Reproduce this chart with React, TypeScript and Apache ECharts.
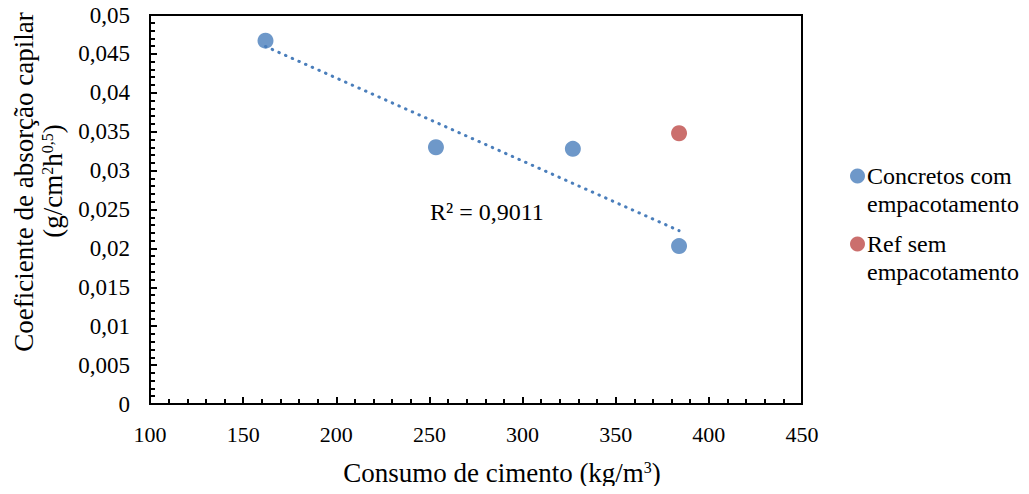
import React, { useEffect, useRef } from "react";
import * as echarts from "echarts";

const xTicks = [100, 150, 200, 250, 300, 350, 400, 450];
const yMin = 0;
const yMax = 0.05;
const yStep = 0.005;

const packedCement = [162, 253.5, 327, 384];
const packedAbsorption = [0.0467, 0.033, 0.0328, 0.0203];

const refCement = [384];
const refAbsorption = [0.0348];

const seriesNames = ["Concretos com\nempacotamento", "Ref sem\nempacotamento"];
const r2Label = "R² = 0,9011";
const xTitle = "Consumo de cimento (kg/m{sup|3})";
const yTitleLine1 = "Coeficiente de absorção capilar";
const yTitleLine2 = "(g/cm{sup|2}h{sup|0,5})";

const FONT = "Liberation Serif";

function linearFit(xs: number[], ys: number[]) {
  const n = xs.length;
  const mx = xs.reduce((a, b) => a + b, 0) / n;
  const my = ys.reduce((a, b) => a + b, 0) / n;
  let sxy = 0;
  let sxx = 0;
  for (let i = 0; i < n; i++) {
    sxy += (xs[i] - mx) * (ys[i] - my);
    sxx += (xs[i] - mx) * (xs[i] - mx);
  }
  const slope = sxy / sxx;
  const intercept = my - slope * mx;
  return { slope, intercept };
}

export default function App() {
  const ref = useRef<HTMLDivElement>(null);

  useEffect(() => {
    if (!ref.current) return;
    const chart = echarts.init(ref.current, undefined, { renderer: "svg" });
    const fit = linearFit(packedCement, packedAbsorption);
    const xLo = Math.min(...packedCement);
    const xHi = Math.max(...packedCement);
    const trend = [
      [xLo, fit.intercept + fit.slope * xLo],
      [xHi, fit.intercept + fit.slope * xHi],
    ];
    const sup = { fontSize: 16, fontFamily: FONT, fill: "#000", verticalAlign: "top" };

    chart.setOption({
      animation: false,
      backgroundColor: "#ffffff",
      textStyle: { fontFamily: FONT },
      grid: {
        left: 150,
        top: 15,
        right: 227,
        bottom: 90,
        show: true,
        borderColor: "#000",
        borderWidth: 2,
        containLabel: false,
      },
      xAxis: {
        type: "value",
        min: xTicks[0],
        max: xTicks[xTicks.length - 1],
        interval: 50,
        axisLine: { show: true, lineStyle: { color: "#000", width: 2 } },
        axisTick: { show: true, inside: true, length: 7, lineStyle: { color: "#000", width: 2 } },
        minorTick: { show: true, splitNumber: 5, length: 5, lineStyle: { color: "#000", width: 2 } },
        splitLine: { show: false },
        axisLabel: {
          color: "#000",
          fontSize: 22,
          fontFamily: FONT,
          margin: 19,
          formatter: (v: number) => `{t|${v}}`,
          rich: { t: { fontSize: 22, fontFamily: FONT, color: "#000" } },
        },
      },
      yAxis: {
        type: "value",
        min: yMin,
        max: yMax,
        interval: yStep,
        axisLine: { show: true, lineStyle: { color: "#000", width: 2 } },
        axisTick: { show: true, inside: true, length: 7, lineStyle: { color: "#000", width: 2 } },
        minorTick: { show: true, splitNumber: 5, length: 5, lineStyle: { color: "#000", width: 2 } },
        splitLine: { show: false },
        axisLabel: {
          color: "#000",
          fontSize: 23,
          fontFamily: FONT,
          margin: 20,
          formatter: (v: number) =>
            `{t|${v === 0 ? "0" : String(+v.toFixed(3)).replace(".", ",")}}`,
          rich: { t: { fontSize: 23, fontFamily: FONT, color: "#000" } },
        },
      },
      legend: {
        data: seriesNames,
        orient: "vertical",
        left: 845,
        top: 129,
        itemWidth: 15,
        itemHeight: 15,
        itemGap: -16,
        icon: "circle",
        formatter: (name: string) =>
          "\n" + name.split("\n").map((l) => `{t|${l}}`).join("\n"),
        textStyle: {
          color: "#000",
          fontSize: 24,
          fontFamily: FONT,
          lineHeight: 28,
          padding: [0, 0, 0, -3],
          rich: { t: { fontSize: 24, fontFamily: FONT, color: "#000", lineHeight: 28 } },
        },
      },
      series: [
        {
          name: "trend",
          type: "line",
          data: trend,
          symbol: "none",
          silent: true,
          lineStyle: { color: "#4A7EBB", width: 3, type: [0.5, 6.8], cap: "round" },
          z: 1,
        },
        {
          name: seriesNames[0],
          type: "scatter",
          data: packedCement.map((x, i) => [x, packedAbsorption[i]]),
          symbolSize: 16,
          itemStyle: { color: "#4A7EBB" },
          z: 3,
        },
        {
          name: seriesNames[1],
          type: "scatter",
          data: refCement.map((x, i) => [x, refAbsorption[i]]),
          symbolSize: 16,
          itemStyle: { color: "#BE4B48" },
          z: 3,
        },
      ],
      graphic: [
        {
          type: "text",
          x: 430,
          y: 212,
          style: { text: r2Label, fontSize: 24, fontFamily: FONT, fill: "#000", align: "left", verticalAlign: "middle" },
        },
        {
          type: "text",
          x: 502,
          y: 473,
          style: {
            text: xTitle,
            fontSize: 27,
            fontFamily: FONT,
            fill: "#000",
            align: "center",
            verticalAlign: "middle",
            rich: { sup },
          },
        },
        {
          type: "text",
          x: 24,
          y: 182,
          rotation: Math.PI / 2,
          style: {
            text: yTitleLine1,
            fontSize: 27,
            fontFamily: FONT,
            fill: "#000",
            align: "center",
            verticalAlign: "middle",
          },
        },
        {
          type: "text",
          x: 53,
          y: 181,
          rotation: Math.PI / 2,
          style: {
            text: yTitleLine2,
            fontSize: 27,
            fontFamily: FONT,
            fill: "#000",
            align: "center",
            verticalAlign: "middle",
            rich: { sup },
          },
        },
      ],
    });
    return () => chart.dispose();
  }, []);

  return <div ref={ref} style={{ width: 1029, height: 494, margin: -8 }} />;
}
